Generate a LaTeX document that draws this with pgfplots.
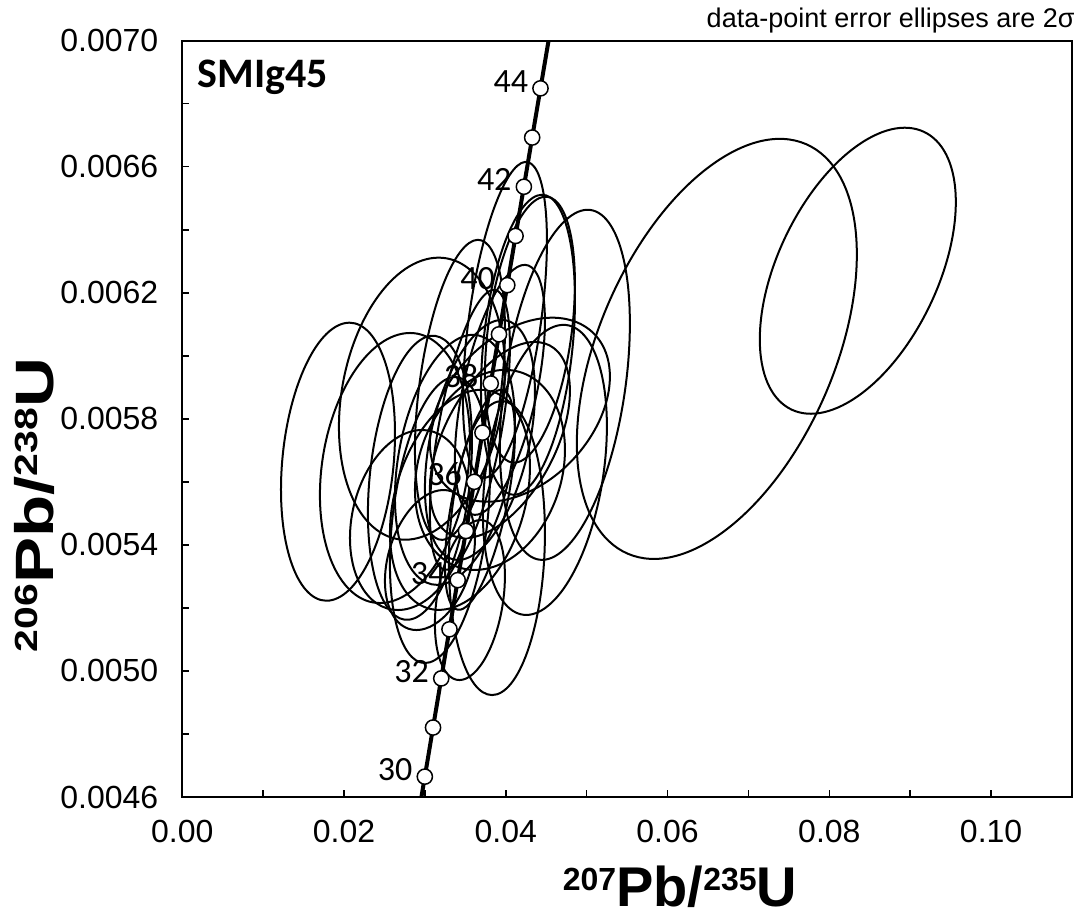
\documentclass[border=0pt]{standalone}
\usepackage{fontspec}
\setmainfont{Liberation Sans}
\newfontfamily\carlito{Carlito}
\usepackage{graphicx}
\usepackage{pgfplots}
\usepackage{pgfplotstable}
\pgfplotsset{compat=1.18}

% ellipses: centre (data), half-width w and half-height h of the box (px), correlation r
\pgfplotstableread{
x y w h r
0.08352 0.006270 98 143 0.48
0.06609 0.006022 140 210 0.45
0.01925 0.005664 57 139 0.20
0.02963 0.005864 83 141 0.20
0.04730 0.005908 65 175 0.35
0.03989 0.006114 42 158 0.50
0.04298 0.006083 45 133 0.35
0.04274 0.006035 47 150 0.30
0.03890 0.005390 48 147 0.10
0.03185 0.005479 50 143 0.30
0.04483 0.005638 62 145 0.30
0.02629 0.005644 75 135 0.20
0.02938 0.005613 52 142 0.25
0.03556 0.005765 40 140 0.60
0.03680 0.005733 55 120 0.40
0.03371 0.005670 60 125 0.30
0.03927 0.005892 45 125 0.55
0.04174 0.005829 90 92 0.36
0.03927 0.005733 70 98 0.50
0.03433 0.005543 70 110 0.30
0.02815 0.005479 60 90 0.20
0.03680 0.005543 35 110 0.60
0.03433 0.005892 45 150 0.40
0.03804 0.005638 75 100 0.20
0.03062 0.005352 45 70 0.30
0.03556 0.005225 35 80 0.30
}\ellipses

\pgfplotstableread{
t x y
29 0.02897242 0.00450876
30 0.02998630 0.00466460
31 0.03100118 0.00482046
32 0.03201706 0.00497634
33 0.03303395 0.00513225
34 0.03405183 0.00528818
35 0.03507072 0.00544414
36 0.03609061 0.00560012
37 0.03711150 0.00575613
38 0.03813341 0.00591216
39 0.03915631 0.00606822
40 0.04018023 0.00622429
41 0.04120516 0.00638040
42 0.04223110 0.00653652
43 0.04325804 0.00669268
44 0.04428600 0.00684885
45 0.04531497 0.00700505
46 0.04634497 0.00716127
}\concordia

\pgfplotstableread{
t x y
30 0.02998630 0.00466460
31 0.03100118 0.00482046
32 0.03201706 0.00497634
33 0.03303395 0.00513225
34 0.03405183 0.00528818
35 0.03507072 0.00544414
36 0.03609061 0.00560012
37 0.03711150 0.00575613
38 0.03813341 0.00591216
39 0.03915631 0.00606822
40 0.04018023 0.00622429
41 0.04120516 0.00638040
42 0.04223110 0.00653652
43 0.04325804 0.00669268
44 0.04428600 0.00684885
}\cticks

\pgfplotstableread{
t x y
30 0.02998630 0.00466460
32 0.03201706 0.00497634
34 0.03405183 0.00528818
36 0.03609061 0.00560012
38 0.03813341 0.00591216
40 0.04018023 0.00622429
42 0.04223110 0.00653652
44 0.04428600 0.00684885
}\clabs

\newcommand\nsup[1]{\raisebox{8pt}{\fontsize{16}{16}\selectfont\bfseries #1}}

\begin{document}
\begin{tikzpicture}
\useasboundingbox (-91.15pt,-60pt) rectangle (447.85pt,398.5pt);
\begin{axis}[
  name=ax,
  at={(0,0)}, anchor=south west,
  width=444.85pt, height=378.15pt, scale only axis,
  xmin=0, xmax=0.11, ymin=0.0046, ymax=0.0070,
  xtick={0,0.02,0.04,0.06,0.08,0.10},
  minor xtick={0.01,0.03,0.05,0.07,0.09},
  ytick={0.0046,0.0050,0.0054,0.0058,0.0062,0.0066,0.0070},
  minor ytick={0.0048,0.0052,0.0056,0.0060,0.0064,0.0068},
  xtick pos=bottom, ytick pos=left, tick align=inside,
  major tick length=3.5pt, minor tick length=3.5pt,
  every tick/.style={black, line width=0.75pt},
  axis line style={line width=1pt},
  scaled ticks=false,
  /pgf/number format/assume math mode=true,
  ticklabel style={font=\fontsize{16}{16}\selectfont},
  xticklabel style={yshift=-8pt, /pgf/number format/fixed, /pgf/number format/fixed zerofill, /pgf/number format/precision=2},
  yticklabel style={xshift=-8.5pt, /pgf/number format/fixed, /pgf/number format/fixed zerofill, /pgf/number format/precision=4},
  xlabel={\fontsize{28}{28}\selectfont\bfseries\nsup{207}Pb/\nsup{235}U},
  ylabel={\scalebox{1.28}[1]{\fontsize{27}{27}\selectfont\bfseries\nsup{206}Pb/\nsup{238}U}},
  every axis x label/.style={at={(axis description cs:0.5594,-0.1454)}, anchor=base, inner sep=0pt},
  every axis y label/.style={at={(axis description cs:-0.1453,0.386)}, anchor=base, rotate=90, inner sep=0pt},
]
\addplot[scatter, only marks, mark=o, mark size=1pt,
  mark options={line width=1pt},
  scatter/use mapped color={draw=black, fill=none},
  visualization depends on={\thisrow{w} \as \ew},
  visualization depends on={\thisrow{h} \as \eh},
  visualization depends on={\thisrow{r} \as \er},
  scatter/@pre marker code/.append code={%
    \pgfmathsetmacro\ea{0.5*\ew}%
    \pgfmathsetmacro\eb{0.5*\eh*\er}%
    \pgfmathsetmacro\ed{0.5*\eh*sqrt(1-\er*\er)}%
    \pgftransformcm{\ea}{\eb}{0}{\ed}{\pgfpointorigin}%
  },
] table[x=x, y=y] {\ellipses};

\addplot[black, line width=2pt, no marks] table[x=x, y=y] {\concordia};
\addplot[only marks, mark=*, mark size=3.8pt, mark options={fill=white, draw=black, line width=0.75pt}] table[x=x, y=y] {\cticks};
\addplot[only marks, mark=none, nodes near coords, point meta=explicit symbolic,
  every node near coord/.append style={anchor=base east, inner sep=0pt, xshift=-6pt, yshift=-2pt, font=\carlito\fontsize{17}{17}\selectfont, text=black}]
  table[x=x, y=y, meta=t] {\clabs};
\end{axis}
\node[anchor=base east, inner sep=0pt, font=\fontsize{13.5}{13.5}\selectfont] at ([xshift=1.5pt, yshift=6.8pt]ax.north east) {data-point error ellipses are 2σ};
\node[anchor=base west, inner sep=0pt, font=\carlito\bfseries\fontsize{21}{21}\selectfont] at ([xshift=7.5pt, yshift=-23.5pt]ax.north west) {SMIg45};
\end{tikzpicture}
\end{document}
